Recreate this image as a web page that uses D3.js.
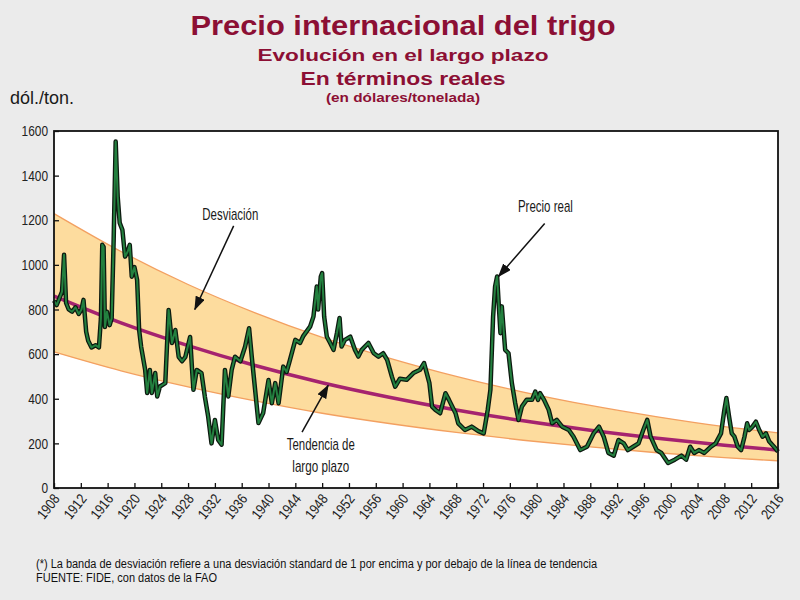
<!DOCTYPE html>
<html>
<head>
<meta charset="utf-8">
<script src="https://cdn.jsdelivr.net/npm/d3@7"></script>
<style>
  body { margin: 0; background: #ebebeb; }
  svg { display: block; }
  .narrow { font-family: "Liberation Sans Narrow", "Arial Narrow", "Liberation Sans", sans-serif; }
  .axis text { font-family: "Liberation Sans Narrow", "Arial Narrow", "Liberation Sans", sans-serif; fill: #222; }
</style>
</head>
<body>
<div class="chart"></div>
<script>
// precio real, en dólares por tonelada
const priceYears = [
  1908.0, 1908.4, 1908.8, 1909.2, 1909.5, 1909.8, 1910.2, 1910.7, 1911.2, 1911.7,
  1912.1, 1912.4, 1912.8, 1913.1, 1913.6, 1914.2, 1914.7, 1915.0, 1915.2, 1915.4,
  1915.6, 1915.9, 1916.3, 1916.6, 1916.9, 1917.2, 1917.5, 1917.8, 1918.2, 1918.6,
  1919.0, 1919.3, 1919.6, 1920.0, 1920.4, 1920.7, 1921.0, 1921.6, 1921.9, 1922.3,
  1922.6, 1923.1, 1923.4, 1923.8, 1924.6, 1925.1, 1925.6, 1926.1, 1926.6, 1927.1,
  1927.6, 1928.3, 1928.6, 1928.8, 1929.3, 1930.0, 1930.5, 1931.0, 1931.5, 1932.0,
  1932.5, 1933.0, 1933.5, 1934.0, 1934.5, 1935.0, 1935.8, 1936.5, 1937.1, 1937.5,
  1938.0, 1938.5, 1939.2, 1940.0, 1940.5, 1941.0, 1941.5, 1942.2, 1942.7, 1943.2,
  1944.0, 1944.7, 1945.2, 1946.2, 1946.7, 1947.2, 1947.4, 1947.8, 1948.0, 1948.3,
  1948.7, 1949.2, 1949.7, 1950.2, 1950.6, 1950.9, 1951.4, 1952.2, 1952.9, 1953.4,
  1953.9, 1954.9, 1955.7, 1956.4, 1957.1, 1957.7, 1958.4, 1958.9, 1959.6, 1960.6,
  1961.6, 1962.6, 1963.2, 1963.6, 1964.0, 1964.4, 1964.9, 1965.6, 1966.4, 1966.9,
  1967.4, 1967.9, 1968.3, 1969.3, 1970.3, 1971.3, 1972.1, 1972.7, 1973.1, 1973.5,
  1973.8, 1974.1, 1974.3, 1974.6, 1974.8, 1975.3, 1975.8, 1976.3, 1976.8, 1977.3,
  1977.8, 1978.5, 1979.3, 1979.8, 1980.2, 1980.5, 1981.1, 1981.8, 1982.3, 1983.0,
  1983.8, 1984.8, 1985.5, 1986.5, 1987.5, 1988.5, 1989.3, 1990.0, 1990.7, 1991.5,
  1992.2, 1993.0, 1993.6, 1994.4, 1995.2, 1995.9, 1996.5, 1997.0, 1997.9, 1998.6,
  1999.6, 2000.6, 2001.6, 2002.3, 2002.9, 2003.5, 2004.2, 2005.0, 2006.0, 2006.7,
  2007.5, 2008.0, 2008.3, 2008.7, 2009.1, 2009.5, 2010.0, 2010.5, 2011.0, 2011.4,
  2011.7, 2012.2, 2012.7, 2013.2, 2013.7, 2014.2, 2014.7, 2015.4, 2016.0
];
const priceValues = [
  840, 820, 850, 880, 1045, 830, 800, 790, 810, 780,
  800, 843, 700, 660, 630, 640, 630, 760, 1090, 1080,
  722, 790, 730, 760, 1112, 1553, 1306, 1188, 1157, 1037,
  1060, 1090, 947, 990, 932, 708, 633, 529, 426, 529,
  426, 515, 410, 455, 470, 798, 650, 708, 588, 568,
  588, 677, 529, 440, 529, 515, 410, 320, 200, 305,
  215, 194, 529, 410, 529, 588, 568, 633, 716, 588,
  440, 291, 336, 484, 380, 470, 380, 544, 520, 574,
  664, 650, 682, 723, 768, 903, 800, 948, 963, 768,
  678, 650, 619, 694, 762, 634, 664, 678, 619, 589,
  619, 650, 604, 589, 604, 574, 499, 454, 490, 485,
  515, 530, 560, 515, 470, 365, 350, 335, 425, 396,
  365, 335, 290, 260, 275, 255, 245, 350, 440, 768,
  903, 948, 844, 694, 814, 619, 604, 470, 380, 305,
  365, 395, 395, 432, 395, 425, 395, 350, 290, 305,
  275, 260, 230, 170, 185, 245, 275, 230, 157, 145,
  215, 200, 170, 185, 200, 260, 305, 230, 170, 157,
  112, 127, 145, 127, 185, 157, 170, 157, 185, 200,
  245, 350, 403, 320, 245, 230, 185, 170, 230, 290,
  260, 275, 297, 260, 230, 245, 208, 185, 163
];

// tendencia de largo plazo y banda de desviación
const trendYears = [1908, 1918, 1928, 1938, 1948, 1958, 1968, 1978, 1988, 1998, 2008, 2016];
const trendValues = [860, 740, 638, 549, 472, 407, 350, 301, 259, 223, 192, 170];
const bandUpper  = [1230, 1060, 912, 785, 675, 582, 500, 430, 370, 319, 275, 247];
const bandLower  = [610, 525, 453, 390, 335, 289, 249, 214, 184, 158, 136, 122];

const xTicks = [1908, 1912, 1916, 1920, 1924, 1928, 1932, 1936, 1940, 1944, 1948, 1952, 1956, 1960,
  1964, 1968, 1972, 1976, 1980, 1984, 1988, 1992, 1996, 2000, 2004, 2008, 2012, 2016];
const yTicks = [0, 200, 400, 600, 800, 1000, 1200, 1400, 1600];

const width = 800, height = 600;
const plot = {left: 54, right: 778, top: 131, bottom: 488};

const red = "#8c0f34";

let x = d3.scaleLinear().domain([1908, 2016]).range([plot.left, plot.right]);
let y = d3.scaleLinear().domain([0, 1600]).range([plot.bottom, plot.top]);

let svg = d3.select(".chart")
  .append("svg")
  .attr("width", width)
  .attr("height", height)

svg.append("defs").append("marker")
  .attr("id", "arrow")
  .attr("viewBox", "0 0 14 10")
  .attr("refX", 13).attr("refY", 5)
  .attr("markerWidth", 9.3).attr("markerHeight", 6.7)
  .attr("markerUnits", "strokeWidth")
  .attr("orient", "auto")
  .append("path")
  .attr("d", "M0,0 L14,5 L0,10 z")
  .attr("fill", "#111");

// títulos
const titles = [
  {t: "Precio internacional del trigo", y: 35, size: 27, len: 425},
  {t: "Evolución en el largo plazo", y: 61, size: 16.5, len: 291},
  {t: "En términos reales", y: 85, size: 17.5, len: 205},
  {t: "(en dólares/tonelada)", y: 101.5, size: 12.5, len: 154}
];
svg.selectAll(".title")
  .data(titles)
  .enter().append("text")
  .attr("class", "title")
  .attr("x", 403)
  .attr("y", d => d.y)
  .attr("text-anchor", "middle")
  .attr("font-family", "Liberation Sans, Arial, sans-serif")
  .attr("font-weight", "bold")
  .attr("font-size", d => d.size)
  .attr("textLength", d => d.len)
  .attr("lengthAdjust", "spacingAndGlyphs")
  .attr("fill", red)
  .text(d => d.t);

svg.append("text")
  .attr("class", "narrow")
  .attr("x", 10).attr("y", 104)
  .attr("font-size", 19)
  .attr("textLength", 64)
  .attr("lengthAdjust", "spacingAndGlyphs")
  .attr("fill", "#1a1a1a")
  .text("dól./ton.");

// fondo del área
svg.append("rect")
  .attr("x", plot.left).attr("y", plot.top)
  .attr("width", plot.right - plot.left).attr("height", plot.bottom - plot.top)
  .attr("fill", "#fff");

let trendData = trendYears.map((yr, i) => ({year: yr, t: trendValues[i], hi: bandUpper[i], lo: bandLower[i]}));
let priceData = priceYears.map((yr, i) => ({year: yr, v: priceValues[i]}));

let band = d3.area()
  .x(d => x(d.year))
  .y0(d => y(d.lo))
  .y1(d => y(d.hi))
  .curve(d3.curveMonotoneX);

svg.append("path")
  .datum(trendData)
  .attr("d", band)
  .attr("fill", "#fddc9e");

["hi", "lo"].forEach(k => {
  svg.append("path")
    .datum(trendData)
    .attr("d", d3.line().x(d => x(d.year)).y(d => y(d[k])).curve(d3.curveMonotoneX))
    .attr("fill", "none")
    .attr("stroke", "#f3a061")
    .attr("stroke-width", 1.3);
});

svg.append("path")
  .datum(trendData)
  .attr("d", d3.line().x(d => x(d.year)).y(d => y(d.t)).curve(d3.curveMonotoneX))
  .attr("fill", "none")
  .attr("stroke", "#a5236f")
  .attr("stroke-width", 3.5);

let priceLine = d3.line().x(d => x(d.year)).y(d => y(d.v));

svg.append("path")
  .datum(priceData)
  .attr("d", priceLine)
  .attr("fill", "none")
  .attr("stroke", "#0d1a10")
  .attr("stroke-width", 4.5)
  .attr("stroke-linejoin", "round");

svg.append("path")
  .datum(priceData)
  .attr("d", priceLine)
  .attr("fill", "none")
  .attr("stroke", "#23803f")
  .attr("stroke-width", 2)
  .attr("stroke-linejoin", "round");

// ejes
let xaxis = svg.append("g")
  .attr("class", "x axis")
  .attr("transform", "translate(0," + plot.bottom + ")")
  .call(d3.axisBottom(x)
    .tickValues(xTicks)
    .tickFormat(d3.format("d"))
    .tickSizeInner(-5)
    .tickSizeOuter(0));

xaxis.selectAll("text")
  .attr("y", 0)
  .attr("dy", 0)
  .attr("transform", "translate(6,11) rotate(-52)")
  .style("text-anchor", "end")
  .attr("font-size", 14.5)
  .attr("textLength", 27)
  .attr("lengthAdjust", "spacingAndGlyphs");

let yaxis = svg.append("g")
  .attr("class", "y axis")
  .attr("transform", "translate(" + plot.left + ",0)")
  .call(d3.axisLeft(y)
    .tickValues(yTicks)
    .tickFormat(d3.format("d"))
    .tickSizeInner(-5)
    .tickSizeOuter(0)
    .tickPadding(6));

yaxis.selectAll("text")
  .attr("font-size", 14.5)
  .attr("textLength", d => String(d).length * 6.6)
  .attr("lengthAdjust", "spacingAndGlyphs");
svg.selectAll(".axis .domain").remove();
svg.selectAll(".axis line").attr("stroke", "#111").attr("stroke-width", 1.3);

svg.append("rect")
  .attr("x", plot.left).attr("y", plot.top)
  .attr("width", plot.right - plot.left).attr("height", plot.bottom - plot.top)
  .attr("fill", "none")
  .attr("stroke", "#111")
  .attr("stroke-width", 1.8);

// anotaciones
const notes = [
  {lines: ["Desviación"], lens: [56], x: 1934.3, y: 1202, from: [1934.8, 1175], to: [1929.0, 800]},
  {lines: ["Precio real"], lens: [55], x: 1981.3, y: 1235, from: [1981.2, 1185], to: [1974.3, 948]},
  {lines: ["Tendencia de", "largo plazo"], lens: [68, 57], x: 1947.8, y: 170, from: [1945.0, 250], to: [1948.9, 460]}
];

notes.forEach(n => {
  n.lines.forEach((t, i) => {
    svg.append("text")
      .attr("class", "narrow")
      .attr("x", x(n.x))
      .attr("y", y(n.y) + i * 21.5)
      .attr("text-anchor", "middle")
      .attr("font-size", 17)
      .attr("textLength", n.lens[i])
      .attr("lengthAdjust", "spacingAndGlyphs")
      .attr("fill", "#1a1a1a")
      .text(t);
  });
  svg.append("line")
    .attr("x1", x(n.from[0])).attr("y1", y(n.from[1]))
    .attr("x2", x(n.to[0])).attr("y2", y(n.to[1]))
    .attr("stroke", "#111")
    .attr("stroke-width", 1.5)
    .attr("marker-end", "url(#arrow)");
});

// notas al pie
const footnotes = [
  "(*) La banda de desviación refiere a una desviación standard de 1 por encima y por debajo de la línea de tendencia",
  "FUENTE: FIDE, con datos de la FAO"
];
const footLens = [561, 181];
svg.selectAll(".foot")
  .data(footnotes)
  .enter().append("text")
  .attr("class", "foot narrow")
  .attr("x", 36)
  .attr("y", (d, i) => 568 + i * 14)
  .attr("font-size", 12.5)
  .attr("textLength", (d, i) => footLens[i])
  .attr("lengthAdjust", "spacingAndGlyphs")
  .attr("fill", "#111")
  .text(d => d);
</script>
</body>
</html>
